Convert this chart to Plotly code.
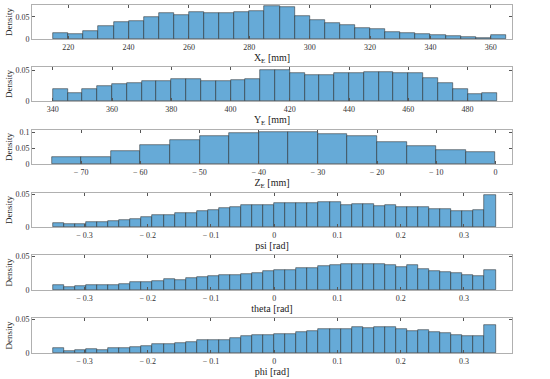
import plotly.graph_objects as go

# ---------------- data ----------------
x_start, x_width = 215, 5
x_density = [0.014, 0.012, 0.019, 0.030, 0.039, 0.041, 0.049, 0.058, 0.054, 0.061,
             0.060, 0.058, 0.061, 0.064, 0.074, 0.073, 0.051, 0.042, 0.036, 0.031,
             0.026, 0.022, 0.016, 0.014, 0.011, 0.009, 0.006, 0.005, 0.003, 0.008]

y_start, y_width = 340, 5
y_density = [0.019, 0.013, 0.019, 0.025, 0.027, 0.030, 0.033, 0.033, 0.036, 0.036,
             0.033, 0.033, 0.035, 0.036, 0.050, 0.051, 0.045, 0.043, 0.042, 0.045,
             0.046, 0.047, 0.048, 0.046, 0.045, 0.038, 0.029, 0.020, 0.012, 0.013]

z_start, z_width = -75, 5
z_density = [0.021, 0.022, 0.042, 0.059, 0.075, 0.088, 0.097, 0.102, 0.100, 0.095,
             0.088, 0.069, 0.056, 0.044, 0.037]

ang_start, ang_width = -0.35, 0.0175
psi_density = [0.006, 0.005, 0.005, 0.007, 0.008, 0.009, 0.010, 0.013, 0.016, 0.018,
               0.018, 0.022, 0.022, 0.025, 0.026, 0.029, 0.031, 0.033, 0.034, 0.034,
               0.036, 0.036, 0.037, 0.037, 0.038, 0.038, 0.034, 0.035, 0.035, 0.032,
               0.033, 0.031, 0.031, 0.030, 0.028, 0.027, 0.024, 0.025, 0.026, 0.049]
theta_density = [0.008, 0.004, 0.006, 0.007, 0.008, 0.008, 0.009, 0.012, 0.012, 0.014,
                 0.016, 0.015, 0.018, 0.020, 0.021, 0.022, 0.023, 0.024, 0.026, 0.028,
                 0.030, 0.030, 0.032, 0.032, 0.036, 0.037, 0.038, 0.039, 0.038, 0.038,
                 0.037, 0.034, 0.037, 0.031, 0.028, 0.027, 0.025, 0.023, 0.021, 0.030]
phi_density = [0.008, 0.003, 0.004, 0.006, 0.005, 0.008, 0.008, 0.009, 0.010, 0.013,
               0.014, 0.015, 0.017, 0.019, 0.019, 0.020, 0.023, 0.025, 0.027, 0.027,
               0.028, 0.028, 0.031, 0.033, 0.035, 0.036, 0.035, 0.038, 0.037, 0.039,
               0.039, 0.035, 0.033, 0.034, 0.031, 0.029, 0.027, 0.026, 0.025, 0.042]

x_ticks = [220, 240, 260, 280, 300, 320, 340, 360]
y_ticks = [340, 360, 380, 400, 420, 440, 460, 480]
z_ticks = [-70, -60, -50, -40, -30, -20, -10, 0]
z_ticktext = ["− 70", "− 60", "− 50", "− 40", "− 30", "− 20", "− 10", "0"]
ang_ticks = [-0.3, -0.2, -0.1, 0, 0.1, 0.2, 0.3]
ang_ticktext = ["− 0.3", "− 0.2", "− 0.1", "0", "0.1", "0.2", "0.3"]

titles = ["X<sub>E</sub> [mm]", "Y<sub>E</sub> [mm]", "Z<sub>E</sub> [mm]",
          "psi [rad]", "theta [rad]", "phi [rad]"]

# ---------------- layout geometry ----------------
H = 379
panels = [
    dict(vals=x_density, start=x_start, w=x_width, xr=[208, 367], yr=[0, 0.077],
         xt=x_ticks, xtt=[str(v) for v in x_ticks], yt=[0, 0.05], ytt=["0", "0.05"], top=5, bot=39),
    dict(vals=y_density, start=y_start, w=y_width, xr=[333, 495], yr=[0, 0.0555],
         xt=y_ticks, xtt=[str(v) for v in y_ticks], yt=[0, 0.05], ytt=["0", "0.05"], top=67, bot=101),
    dict(vals=z_density, start=z_start, w=z_width, xr=[-78.3, 2.8], yr=[0, 0.107],
         xt=z_ticks, xtt=z_ticktext, yt=[0, 0.05, 0.1], ytt=["0", "0.05", "0.1"], top=130, bot=164),
    dict(vals=psi_density, start=ang_start, w=ang_width, xr=[-0.383, 0.376], yr=[0, 0.052],
         xt=ang_ticks, xtt=ang_ticktext, yt=[0, 0.05], ytt=["0", "0.05"], top=193, bot=227),
    dict(vals=theta_density, start=ang_start, w=ang_width, xr=[-0.383, 0.376], yr=[0, 0.052],
         xt=ang_ticks, xtt=ang_ticktext, yt=[0, 0.05], ytt=["0", "0.05"], top=255, bot=290),
    dict(vals=phi_density, start=ang_start, w=ang_width, xr=[-0.383, 0.376], yr=[0, 0.052],
         xt=ang_ticks, xtt=ang_ticktext, yt=[0, 0.05], ytt=["0", "0.05"], top=318, bot=353),
]

fig = go.Figure()
font = "Liberation Serif, Times New Roman, serif"
axis_col = "#b0b0b0"

for i, p in enumerate(panels):
    n = i + 1
    xa = "x" if n == 1 else f"x{n}"
    ya = "y" if n == 1 else f"y{n}"
    centers = [p["start"] + p["w"] * (k + 0.5) for k in range(len(p["vals"]))]
    fig.add_trace(go.Bar(
        x=centers, y=p["vals"], width=p["w"], xaxis=xa, yaxis=ya,
        marker=dict(color="rgb(102,170,215)", line=dict(color="rgba(30,30,30,0.85)", width=0.6)),
        showlegend=False, hoverinfo="x+y"))
    xkey = "xaxis" if n == 1 else f"xaxis{n}"
    ykey = "yaxis" if n == 1 else f"yaxis{n}"
    dom = [1 - p["bot"] / H, 1 - p["top"] / H]
    fig.update_layout(**{
        xkey: dict(domain=[0, 1], anchor=ya, range=p["xr"], tickvals=p["xt"], ticktext=p["xtt"],
                   ticks="inside", ticklen=3, tickcolor="#555", showline=True, linecolor=axis_col,
                   linewidth=1, mirror="ticks", showgrid=False, zeroline=False,
                   tickfont=dict(family=font, size=8, color="#333"),
                   title=dict(text=titles[i], font=dict(family=font, size=10, color="#222"), standoff=0),
                   automargin=False),
        ykey: dict(domain=dom, anchor=xa, range=p["yr"], tickvals=p["yt"], ticktext=p["ytt"],
                   ticks="inside", ticklen=3, tickcolor="#555", showline=True, linecolor=axis_col,
                   linewidth=1, mirror="ticks", showgrid=False, zeroline=False,
                   tickfont=dict(family=font, size=8, color="#333"),
                   title=dict(text="Density", font=dict(family=font, size=9, color="#222"), standoff=1),
                   automargin=False),
    })

fig.update_layout(
    width=550, height=379,
    margin=dict(l=32, r=38, t=0, b=0),
    bargap=0,
    plot_bgcolor="white", paper_bgcolor="white",
    font=dict(family=font),
)

fig.write_html("out.html", config={"displayModeBar": False},
               post_script="document.body.style.margin='0px';document.body.style.overflow='hidden';")
